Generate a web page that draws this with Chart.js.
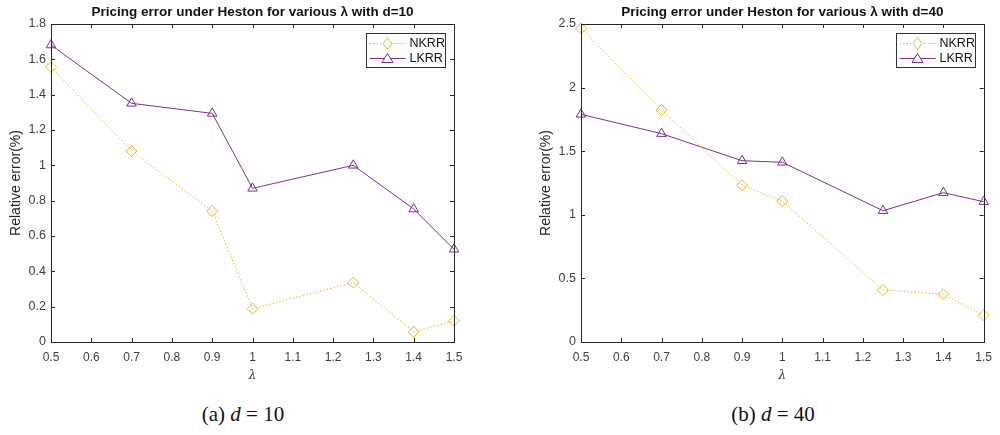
<!DOCTYPE html>
<html>
<head>
<meta charset="utf-8">
<script src="https://cdn.jsdelivr.net/npm/chart.js@4.4.1/dist/chart.umd.min.js"></script>
<style>
body{margin:0;background:#fff;width:1000px;height:435px;overflow:hidden;position:relative;}
canvas{position:absolute;top:0;}
.cap{position:absolute;top:402px;font-family:"Liberation Serif","DejaVu Serif",serif;font-size:21px;color:#111;transform:translateX(-50%);white-space:nowrap;}
.cap i{font-style:italic;}
</style>
</head>
<body>
<canvas id="c1" width="500" height="390" style="left:0"></canvas>
<canvas id="c2" width="500" height="390" style="left:500px"></canvas>
<div class="cap" style="left:243px">(a) <i>d</i> = 10</div>
<div class="cap" style="left:773px">(b) <i>d</i> = 40</div>
<script>
// lambda values
let lambdas = [0.5, 0.7, 0.9, 1, 1.25, 1.4, 1.5];

// d=10
let nkrr10 = [1.556, 1.081, 0.741, 0.189, 0.336, 0.058, 0.12];
let lkrr10 = [1.681, 1.351, 1.294, 0.87, 1.0, 0.753, 0.525];

// d=40
let nkrr40 = [2.466, 1.824, 1.232, 1.108, 0.409, 0.375, 0.21];
let lkrr40 = [1.79, 1.638, 1.425, 1.413, 1.032, 1.174, 1.103];

let seriesNames = ["NKRR", "LKRR"];

const yellow = "#EDB120";
const purple = "#7E2F8E";
const axisCol = "#262626";
const fontFam = "'Liberation Sans', Arial, Helvetica, sans-serif";

function fmt(v){
return String(+Number(v).toFixed(2));
}

// box, inward ticks and legend like matlab
const matlabFrame = {
id: "matlabFrame",
afterDraw(chart){
const c = chart.ctx;
const a = chart.chartArea;
const xs = chart.scales.x, ys = chart.scales.y;
c.save();
c.strokeStyle = axisCol;
c.lineWidth = 1;
c.strokeRect(Math.round(a.left)+0.5, Math.round(a.top)+0.5, Math.round(a.right-a.left), Math.round(a.bottom-a.top));
c.beginPath();
xs.ticks.forEach(t => {
let px = Math.round(xs.getPixelForValue(t.value))+0.5;
c.moveTo(px, a.bottom); c.lineTo(px, a.bottom-4);
c.moveTo(px, a.top); c.lineTo(px, a.top+4);
});
ys.ticks.forEach(t => {
let py = Math.round(ys.getPixelForValue(t.value))+0.5;
c.moveTo(a.left, py); c.lineTo(a.left+4, py);
c.moveTo(a.right, py); c.lineTo(a.right-4, py);
});
c.stroke();

// legend
let bw = 79, bh = 34;
let bx = Math.round(a.right - 9 - bw)+0.5, by = Math.round(a.top + 9)+0.5;
c.fillStyle = "#fff";
c.fillRect(bx, by, bw, bh);
c.strokeStyle = "#333";
c.strokeRect(bx, by, bw, bh);
chart.data.datasets.forEach((ds, i) => {
let ry = by + 10 + i*15;
c.strokeStyle = ds.borderColor;
c.lineWidth = 1;
c.setLineDash(ds.borderDash || []);
c.beginPath();
c.moveTo(bx+3, ry); c.lineTo(bx+39, ry);
c.stroke();
c.setLineDash([]);
let mx = bx+21;
c.fillStyle = "#fff";
c.beginPath();
if(ds.pointStyle === "rectRot"){
c.moveTo(mx, ry-6); c.lineTo(mx+4.5, ry); c.lineTo(mx, ry+6); c.lineTo(mx-4.5, ry); c.closePath();
} else {
c.moveTo(mx, ry-5); c.lineTo(mx+5.5, ry+4); c.lineTo(mx-5.5, ry+4); c.closePath();
}
c.fill(); c.stroke();
c.fillStyle = "#111";
c.font = "12.5px " + fontFam;
c.textBaseline = "middle";
c.fillText(ds.label, bx+43, ry+0.5);
});
c.restore();
}
};

function makeChart(id, title, nk, lk, ymax, ystep, padLeft, padRight){
let nkPts = lambdas.map((l, i) => ({x: l, y: nk[i]}));
let lkPts = lambdas.map((l, i) => ({x: l, y: lk[i]}));
return new Chart(document.getElementById(id), {
type: "line",
data: {
datasets: [{
label: seriesNames[0],
data: nkPts,
borderColor: yellow,
borderWidth: 1,
borderDash: [1.5, 2],
pointStyle: "rectRot",
pointRadius: 5.5,
pointBorderWidth: 1,
pointBackgroundColor: "rgba(255,255,255,0)",
pointBorderColor: yellow,
tension: 0
}, {
label: seriesNames[1],
data: lkPts,
borderColor: purple,
borderWidth: 1,
pointStyle: "triangle",
pointRadius: 5.5,
pointBorderWidth: 1,
pointBackgroundColor: "rgba(255,255,255,0)",
pointBorderColor: purple,
tension: 0
}]
},
options: {
responsive: false,
animation: false,
clip: false,
layout: {padding: {left: padLeft, right: padRight, top: 0, bottom: 0}},
plugins: {
legend: {display: false},
tooltip: {enabled: false},
title: {
display: true,
text: title,
fullSize: false,
color: "#111",
font: {family: fontFam, size: 13.5, weight: "bold", lineHeight: 1.2},
padding: {top: 4.5, bottom: 3.3}
}
},
scales: {
x: {
type: "linear",
min: 0.5, max: 1.5,
grid: {display: false, drawTicks: false},
border: {display: false},
ticks: {stepSize: 0.1, padding: 8, color: "#404040", font: {family: fontFam, size: 12}, callback: v => fmt(v), maxRotation: 0},
title: {display: true, text: "λ", color: "#404040", font: {family: "'DejaVu Serif', serif", size: 12, style: "italic"}, padding: {top: 2, bottom: 7}},
afterFit: s => { s.height = 48; }
},
y: {
min: 0, max: ymax,
grid: {display: false, drawTicks: false},
border: {display: false},
ticks: {stepSize: ystep, padding: 5, color: "#404040", font: {family: fontFam, size: 12.5}, callback: v => fmt(v)},
title: {display: true, text: "Relative error(%)", color: "#262626", font: {family: fontFam, size: 14}, padding: {top: 8, bottom: 0}},
afterFit: s => { s.width = 51; }
}
}
},
plugins: [matlabFrame]
});
}

makeChart("c1", "Pricing error under Heston for various λ with d=10", nkrr10, lkrr10, 1.8, 0.2, 0, 46);
makeChart("c2", "Pricing error under Heston for various λ with d=40", nkrr40, lkrr40, 2.5, 0.5, 30, 16);
</script>
</body>
</html>
